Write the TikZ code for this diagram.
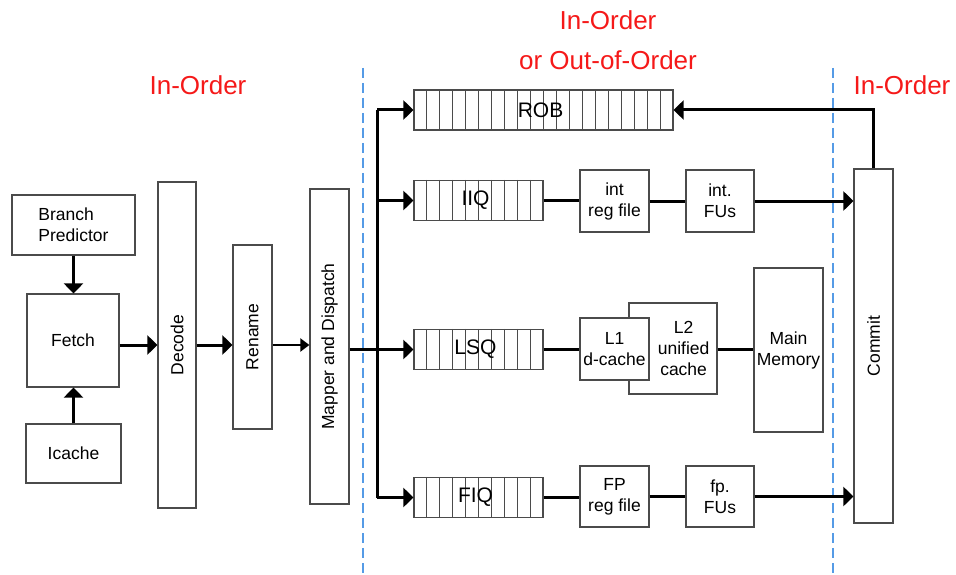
\documentclass[tikz,border=0pt]{standalone}
\usepackage{fontspec}
\setmainfont{Liberation Sans}
\usetikzlibrary{arrows.meta,calc,positioning}
\definecolor{OrderRed}{RGB}{245,25,25}
\definecolor{StageBlue}{RGB}{85,155,230}
\definecolor{BoxGray}{RGB}{75,75,75}

\tikzset{
  unit/.style={draw=BoxGray,line width=1.2pt,fill=white,inner sep=0pt,
    align=center,font=\fontsize{17.5}{21}\selectfont},
  queue/.style={unit,minimum height=40pt,font=\fontsize{21}{24}\selectfont},
  vlabel/.style={rotate=90,font=\fontsize{17.5}{21}\selectfont},
  cell/.style={draw=BoxGray,line width=.8pt},
  flow/.style={line width=3pt,-{Triangle[length=10pt,width=19pt]}},
  thinflow/.style={line width=2pt,-{Triangle[length=9pt,width=13pt]}},
  link/.style={line width=3pt},
  stageline/.style={draw=StageBlue,line width=1.2pt,dash pattern=on 10pt off 5pt},
  order/.style={text=OrderRed,align=center,font=\fontsize{26}{40}\selectfont}
}

\begin{document}
\begin{tikzpicture}[x=1pt,y=-1pt]
  \useasboundingbox (0,0) rectangle (956,575);

  % stage boundaries
  \draw[stageline] (363,68) -- (363,575);
  \draw[stageline] (833,68) -- (833,575);
  \node[order] (ordleft) at (198,85) {In-Order};
  \node[order] (ordmid) at (608,40) {In-Order\\or Out-of-Order};
  \node[order] (ordright) at (902,85) {In-Order};

  % front end
  \node[unit,minimum width=123pt,minimum height=60pt,align=left] (bp) at (73.5,225) {Branch\\Predictor};
  \node[unit,minimum width=92pt,minimum height=93pt] (fetch) at (73,340.5) {Fetch};
  \node[unit,minimum width=95pt,minimum height=59pt] (icache) at (73.5,453.5) {Icache};
  \node[unit,minimum width=38pt,minimum height=326pt,label={[vlabel]center:Decode}] (decode) at (177,345) {};
  \node[unit,minimum width=39pt,minimum height=184pt,label={[vlabel]center:Rename}] (rename) at (252.5,337) {};
  \node[unit,minimum width=39pt,minimum height=315pt,label={[vlabel]center:Mapper and Dispatch}] (mapper) at (329.5,346.5) {};
  \coordinate (pipe) at (0,345);

  % queues
  \node[queue,minimum width=259pt] (rob) at (543.5,110) {};
  \node[queue,minimum width=129pt] (iiq) at (478.5,200.5) {};
  \node[queue,minimum width=129pt] (lsq) at (478.5,349.5) {};
  \node[queue,minimum width=129pt] (fiq) at (478.5,497.5) {};
  \foreach \i in {1,...,19}
    \draw[cell] ($(rob.north west)!\i/20!(rob.north east)$) -- ($(rob.south west)!\i/20!(rob.south east)$);
  \foreach \q in {iiq,lsq,fiq}
    \foreach \i in {1,...,9}
      \draw[cell] ($(\q.north west)!\i/10!(\q.north east)$) -- ($(\q.south west)!\i/10!(\q.south east)$);
  \foreach \q/\t in {rob/ROB,iiq/IIQ,lsq/LSQ,fiq/FIQ}
    \node[font=\fontsize{21}{24}\selectfont] (\q txt) at ([xshift=-3pt]\q) {\t};

  % execution
  \node[unit,minimum width=69pt,minimum height=62pt] (intrf) at (614.5,201) {int\\reg file};
  \node[unit,minimum width=68pt,minimum height=62pt] (intfu) at (720,201) {int.\\FUs};
  \node[unit,minimum width=88pt,minimum height=91pt] (l2) at (673,348.5) {};
  \node[unit,minimum width=69pt,minimum height=62pt] (l1) at (614.5,349) {L1\\d-cache};
  \node[font=\fontsize{17.5}{21}\selectfont,align=center] (l2txt) at ($(l1.east)!.5!(l2.east)$) {L2\\unified\\cache};
  \node[unit,minimum width=69pt,minimum height=164pt] (mem) at (788.5,350) {Main\\Memory};
  \node[unit,minimum width=69pt,minimum height=61pt] (fprf) at (614.5,496.5) {FP\\reg file};
  \node[unit,minimum width=68pt,minimum height=61pt] (fpfu) at (720,496.5) {fp.\\FUs};
  \node[unit,minimum width=39pt,minimum height=354pt,label={[vlabel]center:Commit}] (commit) at (873.5,346) {};

  % connections
  \draw[flow] (bp.south) -- (bp.south |- fetch.north);
  \draw[flow] (icache.north) -- (icache.north |- fetch.south);
  \draw[flow] (fetch.east |- pipe) -- (decode.west |- pipe);
  \draw[flow] (decode.east |- pipe) -- (rename.west |- pipe);
  \draw[thinflow] (rename.east |- pipe) -- (mapper.west |- pipe);
  \coordinate (bus) at (377,0);
  \draw[link] (rob.west -| bus) -- (fiq.west -| bus);
  \draw[flow] (mapper.east |- lsq) -- (lsq.west);
  \foreach \q in {rob,iiq,fiq}
    \draw[flow] (\q.west -| bus) -- (\q.west);
  \draw[link] (iiq.east) -- (intrf.west |- iiq);
  \draw[link] (intrf.east) -- (intfu.west);
  \draw[flow] (intfu.east) -- (intfu.east -| commit.west);
  \draw[link] (lsq.east) -- (l1.west |- lsq);
  \draw[link] (l2.east |- lsq) -- (mem.west |- lsq);
  \draw[link] (fiq.east) -- (fprf.west |- fiq);
  \draw[link] (fprf.east) -- (fpfu.west);
  \draw[flow] (fpfu.east) -- (fpfu.east -| commit.west);
  \draw[flow] (commit.north) |- (rob.east);
\end{tikzpicture}
\end{document}
